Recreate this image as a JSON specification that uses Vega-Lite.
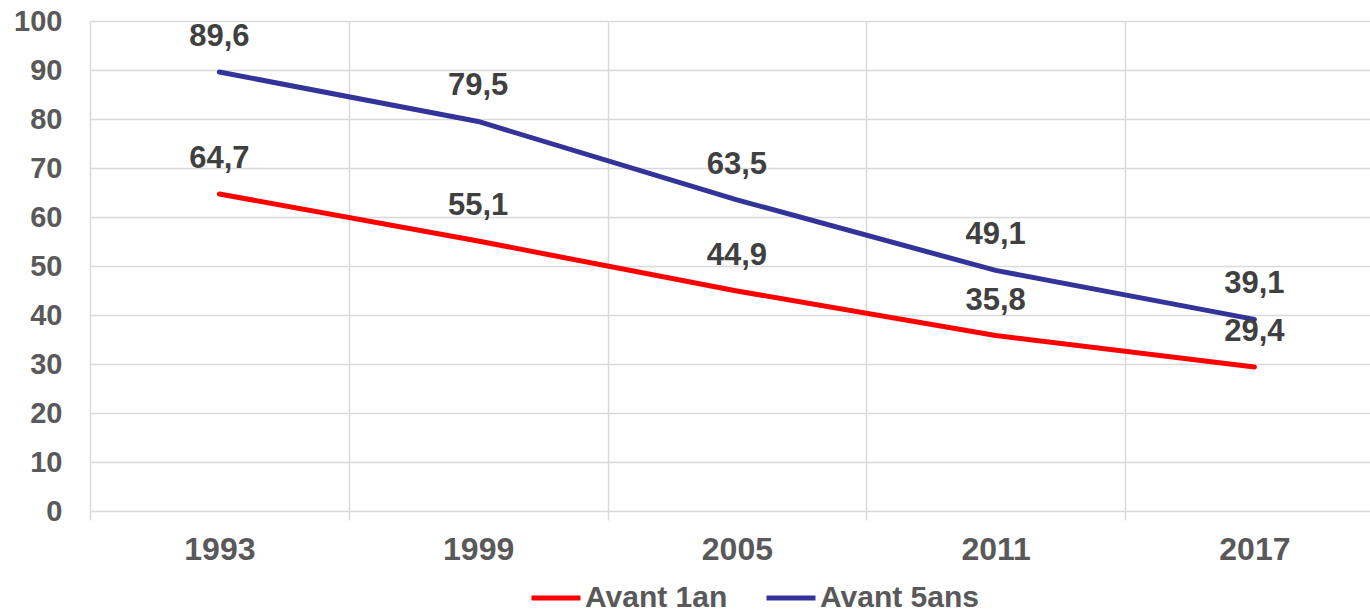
{
  "$schema": "https://vega.github.io/schema/vega-lite/v6.json",
  "width": 1280,
  "height": 490,
  "autosize": "none",
  "padding": {"left": 90, "top": 21, "right": 0, "bottom": 105},
  "background": "white",
  "config": {
    "locale": {"number": {"decimal": ",", "thousands": " ", "grouping": [3], "currency": ["", " €"]}},
    "view": {"stroke": null},
    "font": "Liberation Sans"
  },
  "data": {
    "values": [
      {"annee": 1993, "serie": "Avant 1an", "valeur": 64.7},
      {"annee": 1999, "serie": "Avant 1an", "valeur": 55.1},
      {"annee": 2005, "serie": "Avant 1an", "valeur": 44.9},
      {"annee": 2011, "serie": "Avant 1an", "valeur": 35.8},
      {"annee": 2017, "serie": "Avant 1an", "valeur": 29.4},
      {"annee": 1993, "serie": "Avant 5ans", "valeur": 89.6},
      {"annee": 1999, "serie": "Avant 5ans", "valeur": 79.5},
      {"annee": 2005, "serie": "Avant 5ans", "valeur": 63.5},
      {"annee": 2011, "serie": "Avant 5ans", "valeur": 49.1},
      {"annee": 2017, "serie": "Avant 5ans", "valeur": 39.1}
    ]
  },
  "encoding": {
    "x": {
      "field": "annee",
      "type": "quantitative",
      "scale": {"domain": [1990, 2019.68], "nice": false, "zero": false},
      "axis": {
        "title": null,
        "values": [1990, 1993, 1996, 1999, 2002, 2005, 2008, 2011, 2014, 2017],
        "labelExpr": "(datum.value - 1993) % 6 == 0 ? '' + datum.value : ''",
        "labelFlush": false,
        "labelOverlap": false,
        "labelBound": false,
        "domain": false,
        "grid": true,
        "gridColor": "#D9D9D9",
        "gridWidth": 1.5,
        "gridOpacity": {"condition": {"test": "(datum.value - 1990) % 6 == 0", "value": 1}, "value": 0},
        "ticks": true,
        "tickSize": 9,
        "tickColor": "#D9D9D9",
        "tickWidth": 1.5,
        "tickOpacity": {"condition": {"test": "(datum.value - 1990) % 6 == 0", "value": 1}, "value": 0},
        "labelFontSize": 32,
        "labelFontWeight": "bold",
        "labelColor": "#595959",
        "labelPadding": 14
      }
    },
    "y": {
      "field": "valeur",
      "type": "quantitative",
      "scale": {"domain": [0, 100], "nice": false},
      "axis": {
        "title": null,
        "values": [0, 10, 20, 30, 40, 50, 60, 70, 80, 90, 100],
        "domain": false,
        "ticks": false,
        "grid": true,
        "gridColor": "#D9D9D9",
        "gridWidth": 1.5,
        "labelFontSize": 29,
        "labelFontWeight": "bold",
        "labelColor": "#595959",
        "labelPadding": 28
      }
    }
  },
  "layer": [
    {
      "mark": {"type": "line", "strokeWidth": 5, "strokeCap": "round", "strokeJoin": "round"},
      "encoding": {
        "color": {
          "field": "serie",
          "type": "nominal",
          "scale": {"domain": ["Avant 1an", "Avant 5ans"], "range": ["#FF0000", "#333399"]},
          "legend": {
            "title": null,
            "orient": "none",
            "direction": "horizontal",
            "legendX": 439,
            "legendY": 550,
            "symbolType": "stroke",
            "symbolSize": 2401,
            "symbolStrokeWidth": 5,
            "labelOffset": 2,
            "columnPadding": 28,
            "labelFontSize": 30,
            "labelFontWeight": "bold",
            "labelColor": "#595959",
            "labelLimit": 0
          }
        }
      }
    },
    {
      "mark": {"type": "text", "dy": -35, "fontSize": 31, "fontWeight": "bold", "color": "#404040", "baseline": "middle"},
      "encoding": {
        "text": {"field": "valeur", "type": "quantitative", "format": ".1f"},
        "detail": {"field": "serie"}
      }
    }
  ]
}
